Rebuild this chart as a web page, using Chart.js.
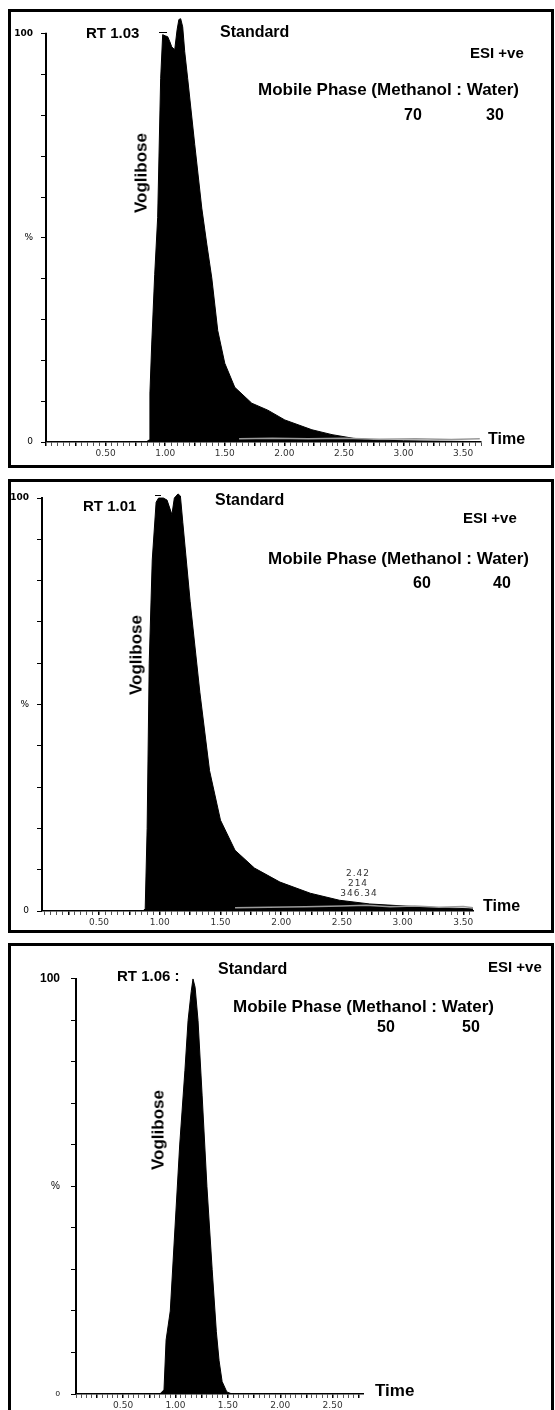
<!DOCTYPE html>
<html><head><meta charset="utf-8">
<script src="https://cdn.jsdelivr.net/npm/chart.js@4.4.0/dist/chart.umd.min.js"></script>
<style>
html,body{margin:0;padding:0;background:#fff;}
body{width:555px;height:1410px;position:relative;overflow:hidden;font-family:"Liberation Sans",Arial,sans-serif;}
.box{position:absolute;box-sizing:border-box;border:3px solid #000;}
canvas{position:absolute;left:0;}
.t{position:absolute;font-weight:bold;line-height:1;white-space:nowrap;color:#000;}
.v{position:absolute;font-weight:bold;line-height:1;white-space:nowrap;color:#000;transform:translate(-50%,-50%) rotate(-90deg);}
.a{position:absolute;font-family:"DejaVu Sans",sans-serif;font-size:9px;line-height:1;color:#333;letter-spacing:1px;transform:translateX(-50%);white-space:nowrap;}
.lead{position:absolute;height:1px;background:#000;}
</style></head><body>

<div class="box" style="left:8px;top:9px;width:546px;height:459px"></div>
<div class="box" style="left:8px;top:479px;width:546px;height:454px"></div>
<div class="box" style="left:8px;top:943px;width:546px;height:480px"></div>

<canvas id="c1" width="555" height="470" style="top:0px"></canvas>
<canvas id="c2" width="555" height="476" style="top:464px"></canvas>
<canvas id="c3" width="555" height="470" style="top:940px"></canvas>

<!-- panel 1 texts -->
<div class="t" style="left:86px;top:24.6px;font-size:15px">RT 1.03</div>
<div class="lead" style="left:159px;top:32px;width:8px"></div>
<div class="t" style="left:220px;top:24.2px;font-size:16px">Standard</div>
<div class="t" style="left:470px;top:44.6px;font-size:15px">ESI +ve</div>
<div class="t" style="left:258px;top:80.7px;font-size:17px">Mobile Phase (Methanol : Water)</div>
<div class="t" style="left:404px;top:107px;font-size:16px">70</div>
<div class="t" style="left:486px;top:107px;font-size:16px">30</div>
<div class="v" style="left:141px;top:173px;font-size:17px">Voglibose</div>
<div class="t" style="left:488px;top:431px;font-size:16px">Time</div>

<!-- panel 2 texts -->
<div class="t" style="left:83px;top:497.6px;font-size:15px">RT 1.01</div>
<div class="lead" style="left:155px;top:495px;width:6px"></div>
<div class="t" style="left:215px;top:492px;font-size:16px">Standard</div>
<div class="t" style="left:463px;top:509.6px;font-size:15px">ESI +ve</div>
<div class="t" style="left:268px;top:549.7px;font-size:17px">Mobile Phase (Methanol : Water)</div>
<div class="t" style="left:413px;top:575px;font-size:16px">60</div>
<div class="t" style="left:493px;top:575px;font-size:16px">40</div>
<div class="v" style="left:136px;top:655px;font-size:17px">Voglibose</div>
<div class="t" style="left:483px;top:898px;font-size:16px">Time</div>
<div class="a" style="left:358px;top:869px">2.42</div>
<div class="a" style="left:358px;top:879px">214</div>
<div class="a" style="left:359px;top:889px">346.34</div>

<!-- panel 3 texts -->
<div class="t" style="left:117px;top:967.6px;font-size:15px">RT 1.06 :</div>
<div class="t" style="left:218px;top:961px;font-size:16px">Standard</div>
<div class="t" style="left:488px;top:958.6px;font-size:15px">ESI +ve</div>
<div class="t" style="left:233px;top:997.7px;font-size:17px">Mobile Phase (Methanol : Water)</div>
<div class="t" style="left:377px;top:1019px;font-size:16px">50</div>
<div class="t" style="left:462px;top:1019px;font-size:16px">50</div>
<div class="v" style="left:158px;top:1130px;font-size:17px">Voglibose</div>
<div class="t" style="left:375px;top:1381.7px;font-size:17px">Time</div>

<script>
// ---------- data (time in min, relative intensity in %) ----------
const panel1Time   = [0, 0.84, 0.865, 0.872, 0.887, 0.912, 0.937, 0.962, 0.979, 1.00, 1.021, 1.04, 1.055, 1.08, 1.10, 1.115, 1.13, 1.147, 1.164, 1.189, 1.248, 1.307, 1.349, 1.391, 1.441, 1.50, 1.584, 1.727, 1.861, 2.004, 2.231, 2.40, 2.58, 2.75, 3.00, 3.30, 3.65];
const panel1Signal = [0, 0, 0.5, 12, 24, 41, 55, 89, 99.8, 99.5, 99.3, 98, 96.8, 96.1, 101, 103.5, 103.7, 101.7, 95.6, 89.0, 72.9, 57.3, 48.5, 40.2, 27.3, 19.3, 13.4, 9.5, 7.8, 5.4, 3.0, 1.8, 0.9, 0.5, 0.3, 0.2, 0.1];
const panel1TraceTime = [1.62, 1.9, 2.2, 2.5, 2.8, 3.1, 3.4, 3.64];
const panel1Trace     = [0.8, 0.9, 0.8, 0.9, 0.7, 0.8, 0.6, 0.8];

const panel2Time   = [0.03, 0.86, 0.88, 0.896, 0.913, 0.938, 0.97, 0.99, 1.03, 1.06, 1.10, 1.12, 1.15, 1.17, 1.19, 1.25, 1.33, 1.41, 1.50, 1.62, 1.78, 1.99, 2.24, 2.48, 2.73, 3.14, 3.58];
const panel2Signal = [0, 0, 0.5, 20, 60, 85, 99, 100, 100, 99.5, 96, 100, 101, 100.5, 94, 75, 53, 34, 22, 14.7, 10.4, 7.0, 4.3, 2.6, 1.7, 1.0, 0.5];
const panel2TraceTime = [1.62, 1.9, 2.2, 2.5, 2.7, 2.9, 3.1, 3.3, 3.5, 3.58];
const panel2Trace     = [0.8, 0.9, 1.0, 1.2, 1.4, 1.0, 1.2, 0.9, 1.1, 0.8];

const panel3Time   = [0.05, 0.85, 0.89, 0.91, 0.95, 0.995, 1.04, 1.09, 1.12, 1.15, 1.167, 1.187, 1.215, 1.254, 1.30, 1.35, 1.39, 1.416, 1.445, 1.49, 1.54, 2.79];
const panel3Signal = [0, 0, 1, 13, 20, 40, 60, 78, 90, 97, 100, 98, 90, 72, 50, 30, 15, 8, 3, 0.5, 0, 0];

// ---------- tick labels ----------
const xLabelValues = [0.5, 1.0, 1.5, 2.0, 2.5, 3.0, 3.5];
const xLabelTexts  = ['0.50', '1.00', '1.50', '2.00', '2.50', '3.00', '3.50'];
const yTickValues  = [0, 10, 20, 30, 40, 50, 60, 70, 80, 90, 100];
const yLabelValues = [0, 50, 100];
const yLabelTexts  = ['0', '%', '100'];

const yAxisLine = {
  id: 'yAxisLine',
  afterDraw(chart, args, o) {
    const y = chart.scales.y, ctx = chart.ctx, x = chart.chartArea.left;
    ctx.save();
    ctx.strokeStyle = '#000';
    ctx.lineWidth = o.width || 2;
    ctx.beginPath();
    ctx.moveTo(x, y.getPixelForValue(o.top) - 1);
    ctx.lineTo(x, y.getPixelForValue(0));
    ctx.stroke();
    ctx.restore();
  }
};

function pts(t, v) { return t.map((x, i) => ({x: x, y: v[i]})); }
function near(a, b) { return Math.abs(a - b) < 1e-6; }

function makePanel(id, cfg) {
  const minorTicks = [];
  for (let k = Math.ceil(cfg.xmin / 0.05 - 1e-9); k * 0.05 <= cfg.xmax + 1e-9; k++) minorTicks.push(+(k * 0.05).toFixed(2));
  const datasets = [];
  if (cfg.traceT) datasets.push({data: pts(cfg.traceT, cfg.traceV), borderColor: '#9a9a9a', borderWidth: 1.5, fill: false, pointRadius: 0, tension: 0});
  datasets.push({data: pts(cfg.t, cfg.v), borderColor: '#000', backgroundColor: '#000', borderWidth: 1, fill: 'origin', pointRadius: 0, tension: 0});
  return new Chart(document.getElementById(id), {
    type: 'line',
    data: {datasets: datasets},
    plugins: [yAxisLine],
    options: {
      responsive: false, animation: false, devicePixelRatio: 1, events: [],
      layout: {padding: cfg.pad},
      plugins: {legend: {display: false}, tooltip: {enabled: false}, yAxisLine: {top: 100, width: 2}},
      scales: {
        x: {
          type: 'linear', min: cfg.xmin, max: cfg.xmax,
          afterBuildTicks: s => { s.ticks = minorTicks.map(v => ({value: v})); },
          afterFit: s => { s.height = cfg.xh; },
          border: {display: true, color: '#000', width: 1.5},
          grid: {drawOnChartArea: false, drawTicks: true, tickLength: 4,
                 color: c => (c.tick && near(c.tick.value * 4, Math.round(c.tick.value * 4))) ? '#000' : '#555',
                 lineWidth: c => (c.tick && near(c.tick.value * 4, Math.round(c.tick.value * 4))) ? 1.5 : 1},
          ticks: {autoSkip: false, maxRotation: 0, minRotation: 0, padding: 2, color: '#333',
                  font: {family: '"DejaVu Sans", sans-serif', size: cfg.xfont},
                  callback: v => { const i = xLabelValues.findIndex(a => near(a, v)); return i >= 0 ? xLabelTexts[i] : ''; }}
        },
        y: {
          type: 'linear', min: 0, max: 105,
          afterBuildTicks: s => { s.ticks = yTickValues.map(v => ({value: v})); },
          afterFit: s => { s.width = cfg.yw; },
          border: {display: false},
          grid: {drawOnChartArea: false, drawTicks: true, tickLength: 5, color: '#000', lineWidth: 1},
          ticks: {autoSkip: false, padding: cfg.ypad, color: '#000',
                  font: c => cfg.yfont(c.tick ? c.tick.value : 0),
                  callback: v => { const i = yLabelValues.indexOf(v); return i >= 0 ? yLabelTexts[i] : ''; }}
        }
      }
    }
  });
}

makePanel('c1', {t: panel1Time, v: panel1Signal, traceT: panel1TraceTime, traceV: panel1Trace,
  xmin: 0, xmax: 3.65, pad: {left: 6, right: 74, top: 11.5, bottom: 6}, yw: 40, xh: 22, xfont: 9, ypad: 8,
  yfont: v => ({family: '"DejaVu Sans", sans-serif', size: 9, weight: v === 100 ? 'bold' : 'normal'})});

makePanel('c2', {t: panel2Time, v: panel2Signal, traceT: panel2TraceTime, traceV: panel2Trace,
  xmin: 0.03, xmax: 3.58, pad: {left: 6, right: 82, top: 11.25, bottom: 7}, yw: 36, xh: 22, xfont: 9, ypad: 8,
  yfont: v => ({family: '"DejaVu Sans", sans-serif', size: 9, weight: v === 100 ? 'bold' : 'normal'})});

makePanel('c3', {t: panel3Time, v: panel3Signal,
  xmin: 0.05, xmax: 2.79, pad: {left: 36, right: 192, top: 8.8, bottom: 2}, yw: 40, xh: 14, xfont: 9, ypad: 11,
  yfont: v => ({family: '"Liberation Sans", Arial, sans-serif', size: v === 100 ? 12 : (v === 50 ? 10 : 8), weight: v === 100 ? 'bold' : 'normal'})});
</script>
</body></html>
